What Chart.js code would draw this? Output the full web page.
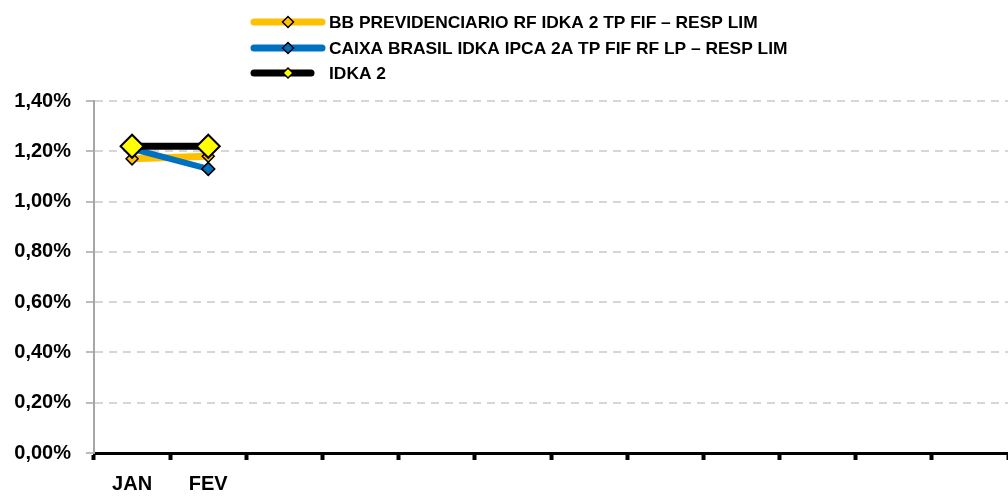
<!DOCTYPE html>
<html lang="pt">
<head>
  <meta charset="UTF-8" />
  <title>Rentabilidade mensal</title>
  <script src="https://cdn.jsdelivr.net/npm/chart.js"></script>
  <style>
    html, body {
      margin: 0;
      padding: 0;
      background: #fff;
      overflow: hidden;
    }
    #chart {
      display: block;
    }
  </style>
</head>
<body>
  <canvas id="chart" width="1008" height="497"></canvas>

  <script>
    // Data (values in %)
    const months = ['JAN', 'FEV', '', '', '', '', '', '', '', '', '', ''];
    const seriesNames = [
      'BB PREVIDENCIARIO RF IDKA 2 TP FIF – RESP LIM',
      'CAIXA BRASIL IDKA IPCA 2A TP FIF RF LP – RESP LIM',
      'IDKA 2'
    ];
    const bbValues = [1.17, 1.18];
    const caixaValues = [1.21, 1.13];
    const idkaValues = [1.22, 1.22];
    const yTickValues = [0, 0.2, 0.4, 0.6, 0.8, 1.0, 1.2, 1.4];

    const FONT = '"Liberation Sans", Arial, sans-serif';

    // legend drawn by hand: line + diamond + label, like the office chart
    const lineLegend = {
      id: 'lineLegend',
      afterDraw(chart) {
        const ctx = chart.ctx;
        const rows = [22, 48, 73];
        ctx.save();
        ctx.font = 'bold 20px ' + FONT;
        const w = ctx.measureText(chart.data.datasets[0].label).width;
        const size = 20 * 429 / w;
        chart.data.datasets.forEach((ds, i) => {
          const y = rows[i];
          const x2 = i === 2 ? 311 : 322;
          ctx.strokeStyle = ds.borderColor;
          ctx.lineWidth = 7;
          ctx.lineCap = 'round';
          ctx.beginPath();
          ctx.moveTo(254, y);
          ctx.lineTo(x2, y);
          ctx.stroke();

          const r = i === 2 ? 5 : 5.5;
          ctx.beginPath();
          ctx.moveTo(288, y - r);
          ctx.lineTo(288 + r, y);
          ctx.lineTo(288, y + r);
          ctx.lineTo(288 - r, y);
          ctx.closePath();
          ctx.fillStyle = ds.pointBackgroundColor;
          ctx.fill();
          ctx.lineWidth = 1.5;
          ctx.strokeStyle = '#000';
          ctx.stroke();

          ctx.fillStyle = '#000';
          ctx.font = 'bold ' + size.toFixed(2) + 'px ' + FONT;
          ctx.textBaseline = 'middle';
          ctx.textAlign = 'left';
          ctx.fillText(ds.label, 329, y + 1);
        });
        ctx.restore();
      }
    };

    new Chart(document.getElementById('chart'), {
      type: 'line',
      data: {
        labels: months,
        datasets: [
          {
            label: seriesNames[0],
            data: bbValues,
            borderColor: '#FFC000',
            borderWidth: 7,
            pointStyle: 'rectRot',
            pointRadius: 6,
            pointBackgroundColor: '#FFC000',
            pointBorderColor: '#000',
            pointBorderWidth: 1.5,
            borderCapStyle: 'round',
            order: 2
          },
          {
            label: seriesNames[1],
            data: caixaValues,
            borderColor: '#0070C0',
            borderWidth: 6,
            pointStyle: 'rectRot',
            pointRadius: 6.5,
            pointBackgroundColor: '#0070C0',
            pointBorderColor: '#000',
            pointBorderWidth: 1.5,
            borderCapStyle: 'round',
            order: 1
          },
          {
            label: seriesNames[2],
            data: idkaValues,
            borderColor: '#000000',
            borderWidth: 7,
            pointStyle: 'rectRot',
            pointRadius: 11.5,
            pointBackgroundColor: '#FFFF00',
            pointBorderColor: '#000',
            pointBorderWidth: 2,
            borderCapStyle: 'round',
            order: 0
          }
        ]
      },
      options: {
        responsive: false,
        animation: false,
        layout: {
          autoPadding: false,
          // plot area runs slightly past the right edge, as in the original
          padding: { top: 101, right: -4, left: 0, bottom: 0 }
        },
        plugins: {
          legend: { display: false },
          tooltip: { enabled: false }
        },
        scales: {
          x: {
            offset: true,
            grid: {
              offset: true,
              drawOnChartArea: false,
              color: '#000',
              tickLength: 7,
              tickWidth: 4
            },
            border: { color: '#000', width: 3 },
            ticks: {
              color: '#000',
              font: { family: FONT, size: 20, weight: 'bold' },
              padding: 12,
              maxRotation: 0,
              autoSkip: false
            },
            afterFit(scale) {
              scale.height = 44;
              scale.paddingLeft = 0;
              scale.paddingRight = 0;
            }
          },
          y: {
            min: 0,
            max: 1.4,
            afterBuildTicks(scale) {
              scale.ticks = yTickValues.map(v => ({ value: v }));
            },
            grid: {
              color: ctx => ctx.tick && ctx.tick.value === 0 ? 'rgba(0,0,0,0)' : '#d6d6d6',
              lineWidth: 2,
              tickColor: '#a6a6a6',
              tickLength: 8,
              tickWidth: 1.5,
              tickBorderDash: []
            },
            border: { color: '#a6a6a6', width: 2, dash: [8, 6] },
            ticks: {
              color: '#000',
              padding: 15,
              font: { family: FONT, size: 20, weight: 'bold' },
              callback: v => v.toFixed(2).replace('.', ',') + '%'
            },
            afterFit(scale) { scale.width = 94; }
          }
        }
      },
      plugins: [lineLegend]
    });
  </script>
</body>
</html>
